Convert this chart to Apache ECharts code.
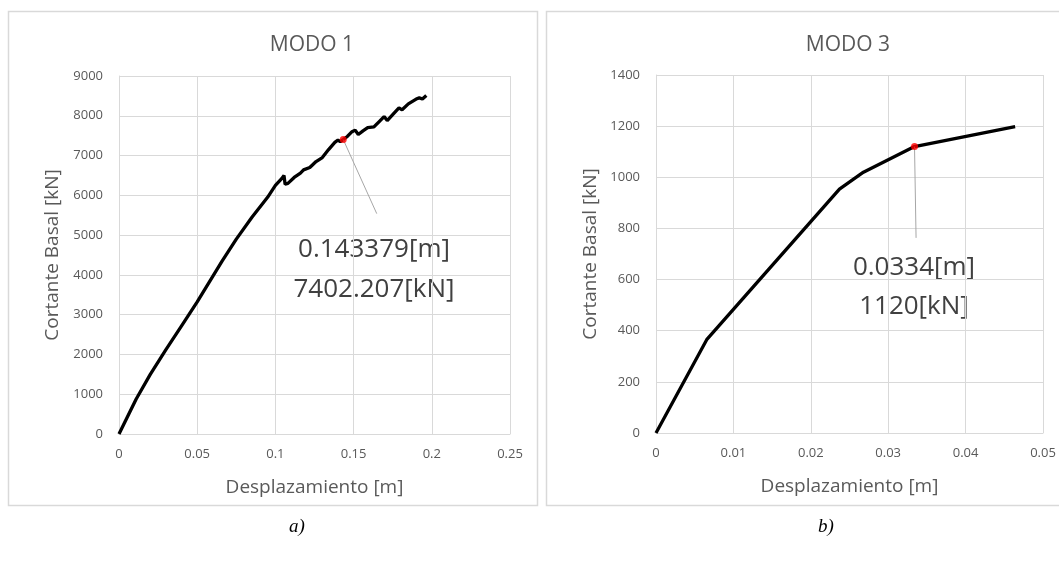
<!DOCTYPE html>
<html>
<head>
<meta charset="utf-8">
<script src="https://cdn.jsdelivr.net/npm/echarts@6/dist/echarts.min.js"></script>
<style>
  html, body { margin: 0; padding: 0; background: #fff; }
  #chart { width: 1059px; height: 564px; }
</style>
</head>
<body>
<div id="chart"></div>
<script>
// curva MODO 1 [desplazamiento m, cortante kN]
const modo1 = [
  [0, 0], [0.011, 880], [0.02, 1500], [0.03, 2120], [0.04, 2720], [0.05, 3320],
  [0.066, 4350], [0.075, 4900], [0.085, 5450], [0.095, 5950], [0.1, 6250],
  [0.104, 6420], [0.1055, 6500], [0.1062, 6280], [0.108, 6300], [0.112, 6450],
  [0.116, 6560], [0.118, 6640], [0.119, 6600], [0.122, 6700], [0.126, 6850],
  [0.13, 6950], [0.134, 7150], [0.138, 7330], [0.14, 7390], [0.1415, 7350],
  [0.143379, 7402.207], [0.146, 7480], [0.149, 7600], [0.151, 7640], [0.153, 7530],
  [0.156, 7620], [0.159, 7700], [0.163, 7720], [0.167, 7880], [0.1695, 7980],
  [0.1705, 8020], [0.1715, 7880], [0.175, 8030], [0.179, 8200], [0.181, 8150],
  [0.185, 8300], [0.19, 8420], [0.192, 8450], [0.194, 8420], [0.1965, 8510]
];
// curva MODO 3
const modo3 = [
  [0, 0], [0.00655, 365], [0.0237, 954], [0.0268, 1020], [0.0334, 1120], [0.0464, 1198]
];
// puntos marcados y extremo de la linea guia
const punto1 = [0.143379, 7402.207];
const guia1 = [0.1648, 5540];
const punto3 = [0.0334, 1120];
const guia3 = [0.0336, 763];
const texto1 = ['0.143379[m]', '7402.207[kN]'];
const texto3 = ['0.0334[m]', '1120[kN]'];

const gris = '#d9d9d9';
const txt = '#595959';
const fuente = 'Open Sans';

function ejeX(grid, max, step) {
  return {
    type: 'value', gridIndex: grid, min: 0, max: max, interval: step,
    name: 'Desplazamiento [m]', nameLocation: 'middle', nameGap: 44,
    nameTextStyle: { color: txt, fontSize: 19, fontFamily: fuente },
    axisLine: { show: true, lineStyle: { color: gris } },
    axisTick: { show: false },
    axisLabel: { color: txt, fontSize: 13, fontFamily: fuente, margin: 14,
      formatter: v => String(v) },
    splitLine: { show: true, lineStyle: { color: gris } }
  };
}
function ejeY(grid, max, step, gap) {
  return {
    type: 'value', gridIndex: grid, min: 0, max: max, interval: step,
    name: 'Cortante Basal [kN]', nameLocation: 'middle', nameGap: gap,
    nameTextStyle: { color: txt, fontSize: 19, fontFamily: fuente },
    axisLine: { show: true, lineStyle: { color: gris } },
    axisTick: { show: false },
    axisLabel: { color: txt, fontSize: 13, fontFamily: fuente, margin: 16,
      formatter: v => String(v) },
    splitLine: { show: true, lineStyle: { color: gris } }
  };
}
function curva(idx, datos, p, g) {
  return [{
    type: 'line', xAxisIndex: idx, yAxisIndex: idx, data: datos,
    showSymbol: false, lineStyle: { color: '#000', width: 3.3 },
    markLine: {
      silent: true, symbol: 'none', label: { show: false },
      lineStyle: { color: '#a6a6a6', width: 1, type: 'solid' },
      data: [[{ coord: p }, { coord: g }]]
    }
  }, {
    type: 'scatter', xAxisIndex: idx, yAxisIndex: idx, data: [p],
    symbolSize: 7, itemStyle: { color: '#ff0000' }, z: 5
  }];
}
function etiqueta(x, y, s) {
  return { type: 'text', x: x, y: y, style: {
    text: s, fill: '#404040', font: '26px "Open Sans"', align: 'center', verticalAlign: 'middle' } };
}

const chart = echarts.init(document.getElementById('chart'));
chart.setOption({
  animation: false,
  title: [
    { text: 'MODO 1', left: 307, top: 30, textAlign: 'center',
      textStyle: { color: txt, fontSize: 21, fontWeight: 'normal', fontFamily: fuente } },
    { text: 'MODO 3', left: 843, top: 30, textAlign: 'center',
      textStyle: { color: txt, fontSize: 21, fontWeight: 'normal', fontFamily: fuente } }
  ],
  grid: [
    { left: 119, top: 76, width: 391, height: 358 },
    { left: 656, top: 75, width: 387, height: 358 }
  ],
  xAxis: [ejeX(0, 0.25, 0.05), ejeX(1, 0.05, 0.01)],
  yAxis: [ejeY(0, 9000, 1000, 57), ejeY(1, 1400, 200, 56)],
  series: curva(0, modo1, punto1, guia1).concat(curva(1, modo3, punto3, guia3)),
  graphic: [
    { type: 'rect', shape: { x: 8.5, y: 11.5, width: 529, height: 494 },
      style: { fill: 'none', stroke: gris, lineWidth: 1.5 }, z: -10 },
    { type: 'rect', shape: { x: 546.5, y: 11.5, width: 530, height: 494 },
      style: { fill: 'none', stroke: gris, lineWidth: 1.5 }, z: -10 },
    etiqueta(374, 250, texto1[0]),
    etiqueta(374, 290, texto1[1]),
    etiqueta(914, 268, texto3[0]),
    etiqueta(914, 307, texto3[1]),
    { type: 'text', x: 297, y: 527, style: { text: 'a)', fill: '#000',
      font: 'italic 19px "Liberation Serif"', align: 'center', verticalAlign: 'middle' } },
    { type: 'text', x: 826, y: 527, style: { text: 'b)', fill: '#000',
      font: 'italic 19px "Liberation Serif"', align: 'center', verticalAlign: 'middle' } }
  ]
});
</script>
</body>
</html>
